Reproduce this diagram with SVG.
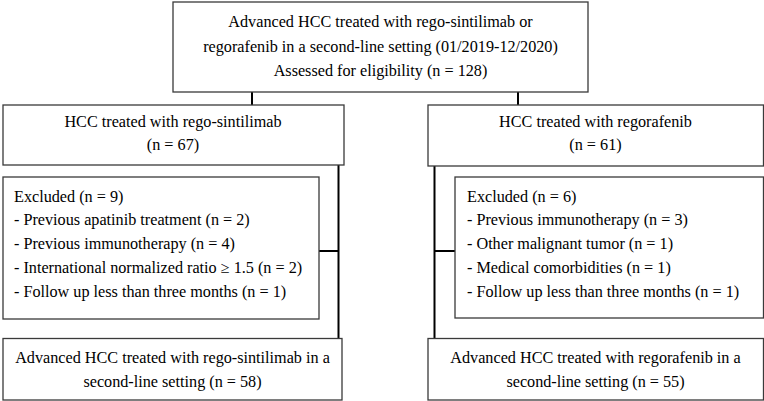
<svg xmlns="http://www.w3.org/2000/svg" width="764" height="401" viewBox="0 0 764 401">
<style>
.box{fill:#fff;stroke:#3a3a3a;stroke-width:1.3}
.t{font-family:"Liberation Serif","Times New Roman",serif;font-size:16.2px;fill:#000}
.c{text-anchor:middle}
.ln{stroke:#000;stroke-width:2;fill:none}
</style>
<rect width="764" height="401" fill="#fff"/>
<g id="connectors">
<path class="ln" d="M252 92V105M518 92V105"/>
<path class="ln" d="M338.5 165V338M319 251H338.5"/>
<path class="ln" d="M434.5 166V338M434.5 251H455"/>
</g>
<g id="top">
<rect class="box" x="173" y="2" width="415" height="90"/>
<text class="t c" x="380.5" y="27">Advanced HCC treated with rego-sintilimab or</text>
<text class="t c" x="380.5" y="52">regorafenib in a second-line setting (01/2019-12/2020)</text>
<text class="t c" x="380.5" y="76">Assessed for eligibility (n = 128)</text>
</g>
<g id="left">
<rect class="box" x="3" y="105" width="341" height="60"/>
<text class="t c" x="173" y="127">HCC treated with rego-sintilimab</text>
<text class="t c" x="173" y="150">(n = 67)</text>
</g>
<g id="right">
<rect class="box" x="428" y="105" width="335.5" height="61"/>
<text class="t c" x="595.5" y="127">HCC treated with regorafenib</text>
<text class="t c" x="595.5" y="150">(n = 61)</text>
</g>
<g id="excl-left">
<rect class="box" x="3" y="177" width="316" height="142"/>
<text class="t" x="14" y="201.5">Excluded (n = 9)</text>
<text class="t" x="14" y="225">- Previous apatinib treatment (n = 2)</text>
<text class="t" x="14" y="249">- Previous immunotherapy (n = 4)</text>
<text class="t" x="14" y="273">- International normalized ratio ≥ 1.5 (n = 2)</text>
<text class="t" x="14" y="297">- Follow up less than three months (n = 1)</text>
</g>
<g id="excl-right">
<rect class="box" x="455" y="177" width="308.5" height="141"/>
<text class="t" x="467" y="201.5">Excluded (n = 6)</text>
<text class="t" x="467" y="225">- Previous immunotherapy (n = 3)</text>
<text class="t" x="467" y="249">- Other malignant tumor (n = 1)</text>
<text class="t" x="467" y="273">- Medical comorbidities (n = 1)</text>
<text class="t" x="467" y="297">- Follow up less than three months (n = 1)</text>
</g>
<g id="final-left">
<rect class="box" x="3" y="338.5" width="339" height="61.5"/>
<text class="t c" x="172.5" y="363">Advanced HCC treated with rego-sintilimab in a</text>
<text class="t c" x="172.5" y="387">second-line setting (n = 58)</text>
</g>
<g id="final-right">
<rect class="box" x="428" y="338.5" width="335.5" height="61.5"/>
<text class="t c" x="595.5" y="363">Advanced HCC treated with regorafenib in a</text>
<text class="t c" x="595.5" y="387">second-line setting (n = 55)</text>
</g>
</svg>
